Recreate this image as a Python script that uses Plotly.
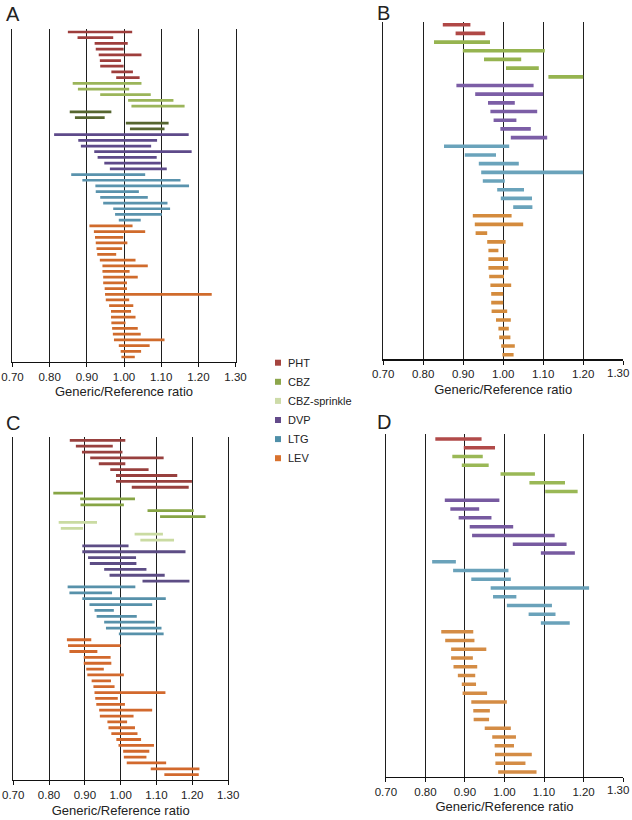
import plotly.graph_objects as go

W, H = 632, 820

CATEGORIES = ["PHT", "CBZ", "CBZ-sprinkle", "DVP", "LTG", "LEV"]
TICK_VALUES = [0.70, 0.80, 0.90, 1.00, 1.10, 1.20, 1.30]
TICK_LABELS = ["0.70", "0.80", "0.90", "1.00", "1.10", "1.20", "1.30"]
AXIS_TITLE = "Generic/Reference ratio"

# ---- Panel A: [low, high] generic/reference ratio intervals ----
A_PHT = [[0.849, 1.022], [0.875, 0.971], [0.921, 1.010], [0.924, 0.999], [0.932, 1.047],
         [0.935, 0.992], [0.936, 0.999], [0.966, 1.024], [0.979, 1.042]]
A_CBZ = [[0.862, 1.047], [0.876, 1.014], [0.936, 1.072], [1.011, 1.133], [1.020, 1.163]]
A_CBZS = [[0.854, 0.966], [0.868, 0.948], [1.005, 1.120], [1.016, 1.109]]
A_DVP = [[0.812, 1.174], [0.877, 1.089], [0.884, 1.073], [0.920, 1.182], [0.929, 1.088],
         [0.947, 1.099], [0.962, 1.115]]
A_LTG = [[0.858, 1.057], [0.888, 1.152], [0.923, 1.175], [0.924, 1.040], [0.936, 1.064],
         [0.944, 1.117], [0.971, 1.124], [0.976, 1.102], [0.986, 1.045]]
A_LEV = [[0.907, 1.023], [0.919, 1.057], [0.922, 0.998], [0.924, 1.009], [0.926, 0.995],
         [0.928, 0.979], [0.935, 1.031], [0.942, 1.064], [0.942, 1.015], [0.944, 1.037],
         [0.944, 1.008], [0.948, 1.008], [0.949, 1.236], [0.951, 1.014], [0.960, 1.025],
         [0.965, 1.019], [0.965, 1.031], [0.966, 1.004], [0.968, 1.037], [0.970, 1.045],
         [0.973, 1.109], [0.986, 1.069], [0.991, 1.046], [0.993, 1.029]]

# ---- Panel B ----
B_PHT = [[0.849, 0.918], [0.881, 0.955]]
B_CBZ = [[0.827, 0.967], [0.899, 1.104], [0.952, 1.045], [1.007, 1.089], [1.113, 1.200]]
B_CBZS = []
B_DVP = [[0.883, 1.076], [0.930, 1.100], [0.962, 1.029], [0.968, 1.085], [0.976, 1.033],
         [0.993, 1.069], [1.019, 1.110]]
B_LTG = [[0.852, 1.015], [0.904, 0.982], [0.939, 1.039], [0.945, 1.200], [0.949, 1.004],
         [0.985, 1.052], [0.994, 1.072], [1.025, 1.073]]
B_LEV = [[0.924, 1.021], [0.929, 1.050], [0.931, 0.960], [0.960, 1.006], [0.963, 0.988],
         [0.963, 1.012], [0.963, 1.013], [0.965, 1.002], [0.968, 1.020], [0.970, 1.000],
         [0.970, 1.000], [0.971, 1.010], [0.982, 1.019], [0.988, 1.014], [0.990, 1.018],
         [0.995, 1.029], [0.998, 1.026]]

# ---- Panel C ----
C_PHT = [[0.858, 1.013], [0.875, 0.978], [0.892, 1.005], [0.915, 1.120], [0.939, 1.013],
         [0.971, 1.078], [0.987, 1.158], [0.987, 1.199], [1.031, 1.190]]
C_CBZ = [[0.812, 0.895], [0.887, 1.040], [0.888, 1.009], [1.075, 1.204], [1.110, 1.237]]
C_CBZS = [[0.827, 0.934], [0.833, 0.895], [1.039, 1.118], [1.055, 1.149]]
C_DVP = [[0.893, 1.022], [0.893, 1.181], [0.909, 1.043], [0.914, 1.044], [0.954, 1.072],
         [0.969, 1.123], [1.061, 1.192]]
C_LTG = [[0.852, 1.041], [0.857, 0.976], [0.893, 1.126], [0.913, 1.088], [0.927, 0.981],
         [0.933, 1.045], [0.954, 1.095], [0.959, 1.114], [0.995, 1.120]]
C_LEV = [[0.850, 0.918], [0.853, 1.000], [0.857, 0.935], [0.897, 0.972], [0.897, 0.974],
         [0.904, 0.953], [0.907, 1.009], [0.919, 0.973], [0.924, 0.983], [0.927, 1.125],
         [0.929, 0.992], [0.932, 1.012], [0.940, 1.088], [0.942, 1.036], [0.963, 1.018],
         [0.966, 1.040], [0.974, 1.047], [0.988, 1.057], [0.994, 1.093], [1.007, 1.080],
         [1.009, 1.072], [1.017, 1.127], [1.084, 1.220], [1.122, 1.218]]

# ---- Panel D ----
D_PHT = [[0.825, 0.942], [0.897, 0.976]]
D_CBZ = [[0.868, 0.945], [0.892, 0.960], [0.990, 1.077], [1.063, 1.153], [1.103, 1.185]]
D_CBZS = []
D_DVP = [[0.849, 0.987], [0.863, 0.936], [0.884, 0.967], [0.912, 1.022], [0.918, 1.127],
         [1.021, 1.157], [1.092, 1.178]]
D_LTG = [[0.817, 0.877], [0.870, 1.010], [0.916, 1.016], [0.965, 1.214], [0.971, 1.030],
         [1.006, 1.120], [1.061, 1.129], [1.092, 1.165]]
D_LEV = [[0.840, 0.921], [0.850, 0.924], [0.865, 0.954], [0.865, 0.920], [0.871, 0.931],
         [0.882, 0.926], [0.892, 0.928], [0.894, 0.956], [0.916, 1.006], [0.921, 0.963],
         [0.922, 0.961], [0.950, 1.016], [0.969, 1.029], [0.975, 1.024], [0.976, 1.069],
         [0.977, 1.053], [0.984, 1.081]]

LEGEND_COLORS = ["#a5443f", "#8ca64b", "#cddba8", "#634a8a", "#4f8fa8", "#d9722e"]

# panel styling / placement (window pixel geometry)
PANELS = [
    dict(label="A", series=[A_PHT, A_CBZ, A_CBZS, A_DVP, A_LTG, A_LEV],
         colors=["#9e3e3c", "#9bb55a", "#56662f", "#5e4a8a", "#5a93ad", "#d06b2c"],
         x0=12.3, x1=235.7, ytop=29.0, ybot=361.7, first=32.0, last=357.0, bw=0.48,
         lx=13, ly=14, right_line=True),
    dict(label="B", series=[B_PHT, B_CBZ, B_CBZS, B_DVP, B_LTG, B_LEV],
         colors=["#b04846", "#96b450", "#cddba8", "#7c5ea6", "#6aa3bb", "#d48b3d"],
         x0=383.0, x1=623.4, ytop=21.7, ybot=359.3, first=24.7, last=354.7, bw=0.42,
         lx=383, ly=13, right_line=False),
    dict(label="C", series=[C_PHT, C_CBZ, C_CBZS, C_DVP, C_LTG, C_LEV],
         colors=["#98403e", "#87a545", "#cadba2", "#5d4d85", "#5791aa", "#d2692d"],
         x0=13.0, x1=228.3, ytop=437.3, ybot=780.0, first=440.3, last=774.7, bw=0.48,
         lx=13, ly=423, right_line=True),
    dict(label="D", series=[D_PHT, D_CBZ, D_CBZS, D_DVP, D_LTG, D_LEV],
         colors=["#b14a49", "#9ab856", "#cddba8", "#775aa0", "#6aa2ba", "#d48c45"],
         x0=385.7, x1=623.3, ytop=434.3, ybot=776.7, first=439.0, last=772.0, bw=0.40,
         lx=384, ly=422, right_line=False),
]

FONT = "Liberation Sans, Arial, sans-serif"
TEXT = "#222222"
LINE = "#1e1e1e"


def fx(px):
    return px / W


def fy(py):
    return 1 - py / H


fig = go.Figure()
layout = dict(width=W, height=H, margin=dict(l=0, r=0, t=0, b=0, autoexpand=False),
              paper_bgcolor="white", plot_bgcolor="white",
              barmode="overlay", showlegend=False,
              font=dict(family=FONT, color=TEXT))
annotations = []
shapes = []

for i, p in enumerate(PANELS):
    n = "" if i == 0 else str(i + 1)
    row = 0
    for cat, data, col in zip(CATEGORIES, p["series"], p["colors"]):
        if not data:
            continue
        lows = [d[0] for d in data]
        highs = [d[1] for d in data]
        rows = list(range(row, row + len(data)))
        row += len(data)
        fig.add_trace(go.Bar(
            x=[h - l for l, h in zip(lows, highs)], base=lows, y=rows,
            orientation="h", width=p["bw"], marker=dict(color=col, line=dict(width=0)),
            name=cat, xaxis="x" + n, yaxis="y" + n, hoverinfo="skip"))
    nrows = row
    spacing = (p["last"] - p["first"]) / (nrows - 1)
    above = (p["first"] - p["ytop"]) / spacing
    below = (p["ybot"] - p["last"]) / spacing
    ticktext = list(TICK_LABELS)
    if not p["right_line"]:
        # last tick label of a right-hand panel sits at the page edge: drawn separately
        ticktext[-1] = ""
        annotations.append(dict(text=TICK_LABELS[-1], x=fx(618.0), y=fy(p["ybot"] + 13.5),
                                xref="paper", yref="paper", showarrow=False,
                                xanchor="center", yanchor="middle",
                                font=dict(size=11.5, family=FONT, color=TEXT)))
    layout["xaxis" + n] = dict(
        domain=[fx(p["x0"]), fx(p["x1"])], range=[0.6995, 1.3005], anchor="y" + n,
        tickvals=TICK_VALUES, ticktext=ticktext, automargin=False,
        showgrid=True, gridcolor=LINE, gridwidth=1, zeroline=False,
        showline=True, linecolor="#111111", linewidth=1.3,
        ticks="outside", ticklen=4, tickwidth=1, tickcolor="#111111",
        tickfont=dict(size=11.5, family=FONT, color=TEXT),
        title=dict(text=AXIS_TITLE, font=dict(size=13, family=FONT, color=TEXT), standoff=5),
        fixedrange=True)
    layout["yaxis" + n] = dict(
        domain=[fy(p["ybot"]), fy(p["ytop"])],
        range=[nrows - 1 + below, -above], anchor="x" + n, automargin=False,
        showticklabels=False, showgrid=False, zeroline=False, ticks="",
        showline=True, linecolor=LINE, linewidth=1,
        mirror=p["right_line"], fixedrange=True)
    annotations.append(dict(text=p["label"], x=fx(p["lx"]), y=fy(p["ly"]),
                            xref="paper", yref="paper", showarrow=False,
                            xanchor="center", yanchor="middle",
                            font=dict(size=20, family=FONT, color=TEXT)))

# legend (manual, in the centre column)
for k, (cat, col) in enumerate(zip(CATEGORIES, LEGEND_COLORS)):
    yc = 362.7 + k * 19.1
    shapes.append(dict(type="rect", xref="paper", yref="paper",
                       x0=fx(275.0), x1=fx(281.0), y0=fy(yc + 3), y1=fy(yc - 3),
                       fillcolor=col, line=dict(width=0)))
    annotations.append(dict(text=cat, x=fx(286.0), y=fy(yc), xref="paper", yref="paper",
                            showarrow=False, xanchor="left", yanchor="middle",
                            font=dict(size=11, family=FONT, color=TEXT)))

layout["annotations"] = annotations
layout["shapes"] = shapes
fig.update_layout(**layout)
# the page's default 8px body margin would push the figure past the window edge
fig.write_html("out.html", config={"displayModeBar": False, "staticPlot": True},
               post_script="document.body.style.margin='0px';")
